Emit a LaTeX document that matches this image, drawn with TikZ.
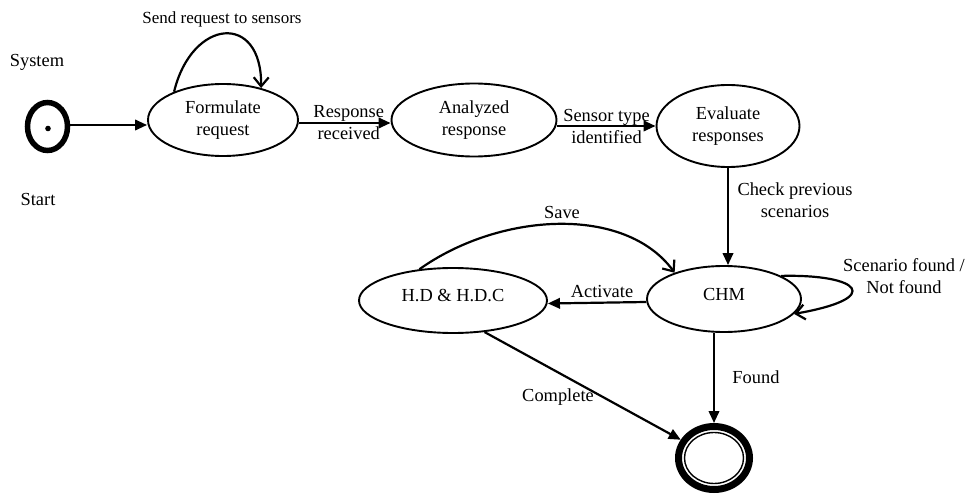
\documentclass[tikz,border=0pt]{standalone}
\usepackage{fontspec}
\setmainfont{Liberation Serif}
\usetikzlibrary{arrows.meta,shapes.geometric}
\begin{document}
\begin{tikzpicture}[x=1pt,y=-1pt,
  state/.style={ellipse,draw,line width=1.9pt,inner sep=0pt,align=center,font=\fontsize{18.4}{22}\selectfont},
  lbl/.style={align=center,inner sep=0pt,font=\fontsize{18.4}{22}\selectfont},
  arr/.style={line width=2.2pt,-{Triangle[length=12pt,width=10.5pt]}},
  barb/.style={line width=2.2pt,-{Straight Barb[length=9pt,width=15pt]}},
]
\useasboundingbox (0,0) rectangle (966,497);

\node[state,line width=5.5pt,minimum width=40pt,minimum height=48pt] (start) at (47.5,126.5) {};
\fill (start.center) ++(0.5,2) circle (2.8pt);
\node[lbl] (system) at (37,62) {System};
\node[lbl] (startlbl) at (38,199) {Start};

\node[state,minimum width=150pt,minimum height=72pt] (form) at (223,120) {Formulate\\request};
\node[state,minimum width=165pt,minimum height=73pt] (an) at (474,120) {Analyzed\\response};
\node[state,minimum width=143pt,minimum height=82pt] (ev) at (728,126) {Evaluate\\responses};
\node[state,minimum width=154pt,minimum height=66pt,text depth=10pt] (chm) at (724,299) {CHM};
\node[state,minimum width=188pt,minimum height=65pt,text depth=10pt] (hd) at (453,300.5) {H.D \& H.D.C};
\node[ellipse,draw,line width=7pt,minimum width=71pt,minimum height=63pt,inner sep=0pt] (final) at (714,458) {};
\draw[line width=1.4pt] (final.center) ellipse [x radius=29.5pt,y radius=25.5pt];

\draw[arr] ([yshift=1.5pt]start.east) -- ([yshift=1.5pt]start.east -| form.west);
\draw[arr] ([yshift=-3pt]form.east) -- node[lbl,xshift=4pt]{Response\\received} ([yshift=-3pt]an.west);
\draw[arr] ([yshift=-6pt]an.east) -- node[lbl]{Sensor type\\identified} (ev.west);
\draw[arr] (ev.south) -- (ev.south |- chm.north);
\node[lbl] (chk) at (795,200) {Check previous\\scenarios};
\draw[arr] ([yshift=-3pt]chm.west) -- ([yshift=-3pt]hd.east);
\node[lbl] (act) at (602,291) {Activate};

\draw[barb] (hd.137) .. controls (500,212) and (625,205) .. (chm.152);
\node[lbl] (save) at (562,212) {Save};

\draw[barb] (form.150) .. controls (192,18) and (262,12) .. (form.40);
\node[lbl,font=\fontsize{17}{20}\selectfont] (send) at (222,19) {Send request to sensors};

\draw[barb] (chm.22) .. controls (860,274) and (885,298) .. (chm.-12);
\node[lbl] (scn) at (904,276) {Scenario found /\\Not found};

\draw[arr] (chm.south -| final.north) -- (final.north);
\node[lbl] (found) at (756,377) {Found};

\draw[arr] (hd.-45) -- (final);
\node[lbl] (cmp) at (558,397) {Complete};
\end{tikzpicture}
\end{document}
